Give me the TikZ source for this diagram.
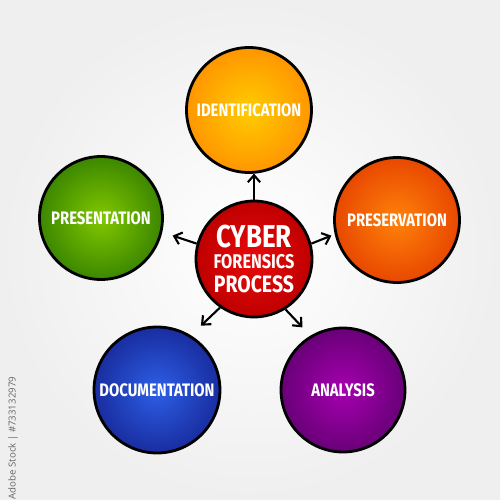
\documentclass[tikz,border=0pt]{standalone}
\usepackage{fontspec}
\setmainfont{Fira Sans}[FakeStretch=0.82]
\newfontfamily\sidefont{Open Sans}
\usetikzlibrary{arrows.meta}
\definecolor{bgout}{HTML}{EFEFEF}
\tikzset{
  bubble/.style={circle, draw=black, line width=1.6pt, inner sep=0pt, text=white,
    font=\bfseries\fontsize{10.3}{12}\selectfont},
  outarrow/.style={-{Straight Barb[length=4pt,width=7pt,line width=1.2pt]}, line width=1.2pt, black}
}
\begin{document}
\begin{tikzpicture}[x=0.02cm,y=-0.02cm]
\useasboundingbox (0,0) rectangle (500,500);
\shade[inner color=white, outer color=bgout] (0,0) rectangle (500,500);
% outer bubbles
\node[bubble, minimum size=2.5cm, inner color={rgb,255:red,255;green,204;blue,0}, outer color={rgb,255:red,255;green,150;blue,0}] (ident) at (249,110) {IDENTIFICATION};
\node[bubble, minimum size=2.5cm, inner color={rgb,255:red,255;green,130;blue,10}, outer color={rgb,255:red,232;green,72;blue,0}] (pres) at (397,220) {PRESERVATION};
\node[bubble, minimum size=2.46cm, inner color={rgb,255:red,130;green,200;blue,0}, outer color={rgb,255:red,60;green,135;blue,0}] (prsn) at (101,218) {PRESENTATION};
\node[bubble, minimum size=2.52cm, inner color={rgb,255:red,45;green,95;blue,230}, outer color={rgb,255:red,25;green,45;blue,160}] (doc) at (157,390) {DOCUMENTATION};
\node[bubble, minimum size=2.48cm, inner color={rgb,255:red,165;green,0;blue,175}, outer color={rgb,255:red,105;green,0;blue,120}] (anal) at (343,390) {ANALYSIS};
% center
\node[bubble, minimum size=2.32cm, inner color={rgb,255:red,235;green,10;blue,10}, outer color={rgb,255:red,190;green,0;blue,0}, align=center] (core) at (254,259)
  {{\fontsize{18}{17}\selectfont CYBER}\\[0pt]{\fontsize{11.3}{11.5}\selectfont FORENSICS}\\[1.5pt]{\fontsize{13.5}{13}\selectfont PROCESS}};
% arrows
\draw[outarrow] (core.90) -- ++(0,-26);
\draw[outarrow] (core.15) -- ++(20,-8);
\draw[outarrow] (core.165) -- ++(-24,-8);
\draw[outarrow] (core.235) -- ++(-19,18);
\draw[outarrow] (core.302) -- ++(17,18);
% side text
\node[rotate=90, text=gray!80!black, font=\sidefont\fontsize{5.5}{6}\selectfont] (side) at (13,438) {Adobe Stock | \#733132979};
\end{tikzpicture}
\end{document}
